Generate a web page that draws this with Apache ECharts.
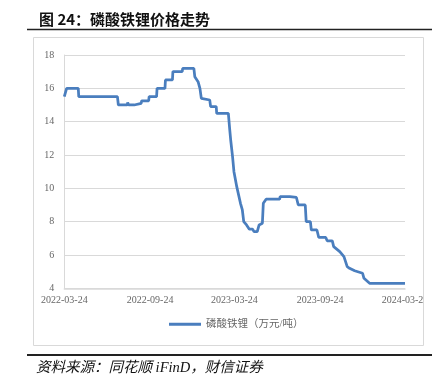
<!DOCTYPE html>
<html><head><meta charset="utf-8">
<script src="https://cdn.jsdelivr.net/npm/echarts@6/dist/echarts.min.js"></script>
<style>html,body{margin:0;padding:0;background:#fff}#c{width:432px;height:384px}</style>
</head><body><div id="c"></div>
<script>
const titleText = '图 24：磷酸铁锂价格走势';
const sourceText = '资料来源：同花顺 iFinD，财信证券';
const seriesName = '磷酸铁锂（万元/吨）';
const xTickLabels = ['2022-03-24','2022-09-24','2023-03-24','2023-09-24','2024-03-24'];
const yTicks = [4, 6, 8, 10, 12, 14, 16, 18];
const dates = [
 '2022-03-24','2022-03-28','2022-03-29','2022-04-23','2022-04-24','2022-07-16','2022-07-18','2022-08-06','2022-08-07','2022-08-09',
 '2022-08-21','2022-08-23','2022-09-05','2022-09-06','2022-09-21','2022-09-22','2022-10-08','2022-10-09','2022-10-26','2022-10-27',
 '2022-11-11','2022-11-12','2022-12-02','2022-12-03','2022-12-27','2022-12-29','2023-01-05','2023-01-09','2023-01-12','2023-01-15',
 '2023-01-30','2023-02-01','2023-02-13','2023-02-14','2023-03-11','2023-03-14','2023-03-16','2023-03-20','2023-03-23','2023-03-27',
 '2023-03-29','2023-04-02','2023-04-06','2023-04-10','2023-04-13','2023-04-19','2023-04-25','2023-05-02','2023-05-05','2023-05-12',
 '2023-05-16','2023-05-23','2023-05-25','2023-05-28','2023-05-31','2023-06-29','2023-06-30','2023-07-21','2023-07-23','2023-08-04',
 '2023-08-08','2023-08-23','2023-08-25','2023-09-03','2023-09-05','2023-09-17','2023-09-21','2023-10-06','2023-10-09','2023-10-20',
 '2023-10-23','2023-11-05','2023-11-14','2023-11-21','2023-11-26','2023-12-07','2023-12-24','2023-12-27','2024-01-08','2024-02-19',
 '2024-02-20','2024-02-21','2024-03-24'
];
const prices = [
 15.5,15.5,16.0,16.0,15.5,15.5,15.0,15.0,15.15,15.0,
 15.0,15.1,15.1,15.25,15.25,15.5,15.5,16.0,16.0,16.5,
 16.5,17.0,17.0,17.2,17.2,16.7,16.4,16.0,15.4,15.3,
 15.3,14.9,14.9,14.5,14.5,13.5,12.9,11.9,11.0,11.0,
 10.1,10.0,9.1,8.7,8.0,7.8,7.55,7.55,7.4,7.4,
 7.8,7.9,9.1,9.2,9.35,9.35,9.5,9.5,9.45,9.45,
 9.0,9.0,8.0,8.0,7.5,7.5,7.05,7.05,6.85,6.85,
 6.5,6.2,5.9,5.3,5.2,5.05,4.9,4.6,4.3,4.3,
 4.25,4.3,4.3
];

const serif = '"Liberation Serif","Noto Sans CJK SC",serif';
const ts = s => echarts.number.parseDate(s).getTime();
const pad = n => (n < 10 ? '0' : '') + n;
const fmt = v => { const d = new Date(v); return d.getFullYear() + '-' + pad(d.getMonth()+1) + '-' + pad(d.getDate()); };
const chart = echarts.init(document.getElementById('c'), null, {renderer: 'canvas'});
chart.setOption({
  animation: false,
  backgroundColor: '#fff',
  title: {
    text: titleText, left: 34, top: 7,
    textStyle: {fontFamily: '"Noto Sans CJK SC",sans-serif', fontWeight: 'bold', fontSize: 15, color: '#111'}
  },
  grid: {left: 64.3, right: 27, top: 55, bottom: 95.7, containLabel: false},
  legend: {
    left: 169, top: 319, padding: 0, icon: 'rect', itemWidth: 32, itemHeight: 3, itemGap: 10,
    textStyle: {fontFamily: serif, fontSize: 10.5, color: '#666'},
    data: [seriesName]
  },
  xAxis: {
    type: 'value', min: ts(xTickLabels[0]), max: ts(xTickLabels[xTickLabels.length-1]),
    axisLine: {show: true, lineStyle: {color: '#d9d9d9', width: 1.5}},
    axisTick: {show: false},
    splitLine: {show: false},
    axisLabel: {
      customValues: xTickLabels.map(ts), formatter: v => fmt(v),
      fontFamily: serif, fontSize: 10, color: '#666', margin: 7,
      showMinLabel: true, showMaxLabel: true
    }
  },
  yAxis: {
    type: 'value', min: yTicks[0], max: yTicks[yTicks.length-1], interval: 2,
    axisLine: {show: true, lineStyle: {color: '#d9d9d9', width: 1}},
    axisTick: {show: false},
    splitLine: {show: true, lineStyle: {color: '#d9d9d9', width: 1}},
    axisLabel: {fontFamily: serif, fontSize: 10, color: '#666', margin: 10}
  },
  series: [{
    name: seriesName, type: 'line', symbol: 'none', showSymbol: false,
    lineStyle: {color: '#4a7ebe', width: 2.75}, itemStyle: {color: '#4a7ebe'},
    data: dates.map((d, i) => [ts(d), prices[i]])
  }],
  graphic: [
    {type: 'rect', z: 100, silent: true, shape: {x: 423.5, y: 290, width: 10, height: 20}, style: {fill: '#fff'}},
    {type: 'rect', z: 101, silent: true, shape: {x: 33.5, y: 37.5, width: 390, height: 308}, style: {fill: 'none', stroke: '#d9d9d9', lineWidth: 1}},
    {type: 'line', z: 101, silent: true, shape: {x1: 27, y1: 29.5, x2: 432, y2: 29.5}, style: {stroke: '#222', lineWidth: 1.5}},
    {type: 'line', z: 101, silent: true, shape: {x1: 27, y1: 355, x2: 432, y2: 355}, style: {stroke: '#222', lineWidth: 2}},
    {type: 'text', z: 101, silent: true, x: 36, y: 368, style: {text: sourceText, fontFamily: serif, fontStyle: 'italic', fontSize: 14.5, fill: '#111', verticalAlign: 'middle'}}
  ]
});
</script></body></html>
